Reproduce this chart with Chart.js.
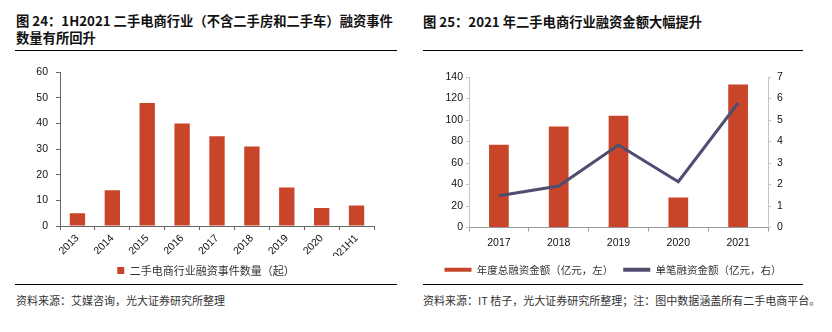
<!DOCTYPE html>
<html>
<head>
<meta charset="UTF-8">
<script src="https://cdn.jsdelivr.net/npm/chart.js"></script>
<title>二手电商融资</title>
<style>
  body { margin: 0; width: 832px; height: 332px; background: #fff; position: relative; overflow: hidden;
         font-family: "Noto Sans CJK SC", sans-serif; }
  .t { position: absolute; font-weight: bold; font-size: 13.3px; color: #111; line-height: 17px; white-space: nowrap; }
  .rule { position: absolute; height: 1px; background: #000; }
  .src { position: absolute; top: 292px; font-size: 11px; line-height: 16px; color: #333; white-space: nowrap; }
  canvas { position: absolute; }
</style>
</head>
<body>
<div class="t" style="left:16px;top:12px">图 24：1H2021 二手电商行业（不含二手房和二手车）融资事件<br>数量有所回升</div>
<div class="t" style="left:423px;top:13px">图 25：2021 年二手电商行业融资金额大幅提升</div>

<canvas id="events" width="400" height="228" style="left:0px;top:58px"></canvas>
<canvas id="amount" width="386" height="223" style="left:420px;top:62px"></canvas>

<div class="rule" style="left:15px;top:50px;width:382px"></div>
<div class="rule" style="left:423px;top:50px;width:380px"></div>
<div class="rule" style="left:15px;top:284px;width:382px"></div>
<div class="rule" style="left:423px;top:284px;width:380px"></div>
<div class="src" style="left:16px">资料来源：艾媒咨询，光大证券研究所整理</div>
<div class="src" style="left:423px">资料来源：IT 桔子，光大证券研究所整理；注：图中数据涵盖所有二手电商平台。</div>

<script>
  // 图24 数据
  const eventYears = ['2013', '2014', '2015', '2016', '2017', '2018', '2019', '2020', '2021H1'];
  const eventCounts = [5, 14, 48, 40, 35, 31, 15, 7, 8];
  const eventTicks = [0, 10, 20, 30, 40, 50, 60];

  // 图25 数据
  const amountYears = ['2017', '2018', '2019', '2020', '2021'];
  const totalAmount = [77, 94, 104, 28, 133];
  const avgAmount = [1.48, 1.93, 3.84, 2.13, 5.79];
  const leftTicks = [0, 20, 40, 60, 80, 100, 120, 140];
  const rightTicks = [0, 1, 2, 3, 4, 5, 6, 7];

  const red = '#C9452A';
  const navy = '#4F4D70';
  const cjk = '"Noto Sans CJK SC", sans-serif';

  Chart.defaults.font.family = '"Liberation Sans", Arial, sans-serif';
  Chart.defaults.font.size = 10.5;
  Chart.defaults.color = '#111';
  Chart.defaults.animation = false;

  function fixedTicks(list) {
    return function (scale) {
      scale.ticks = list.map(v => ({ value: v }));
    };
  }

  function flatLabels(chart) {
    const items = Chart.defaults.plugins.legend.labels.generateLabels(chart);
    items.forEach(i => { i.lineWidth = 0; });
    return items;
  }

  // moves the legend sideways so it sits under the plot like the original
  const legendShift = {
    id: 'legendShift',
    afterLayout(chart, args, opts) {
      const l = chart.legend;
      if (l && opts.dx) { l.left += opts.dx; l.right += opts.dx; }
    }
  };

  new Chart(document.getElementById('events').getContext('2d'), {
    type: 'bar',
    data: {
      labels: eventYears,
      datasets: [{
        label: '二手电商行业融资事件数量（起）',
        data: eventCounts,
        backgroundColor: red,
        categoryPercentage: 1,
        barPercentage: 0.44
      }]
    },
    plugins: [legendShift],
    options: {
      responsive: false,
      layout: { padding: { top: 12, right: 26, left: 0, bottom: 0 } },
      plugins: {
        tooltip: { enabled: false },
        legendShift: { dx: 19 },
        legend: {
          position: 'bottom',
          labels: {
            boxWidth: 7, boxHeight: 7, padding: 9, color: '#333',
            font: { family: cjk, size: 11 },
            generateLabels: flatLabels
          }
        }
      },
      scales: {
        x: {
          grid: { drawOnChartArea: false, offset: true, tickLength: 4, color: '#666' },
          border: { color: '#666' },
          ticks: { maxRotation: 45, minRotation: 45, padding: 2, autoSkip: false },
          afterFit: s => { s.height = 30; }
        },
        y: {
          min: 0, max: 60,
          grid: { drawOnChartArea: false, tickLength: 4, color: '#666' },
          border: { color: '#666' },
          ticks: { padding: 8 },
          afterBuildTicks: fixedTicks(eventTicks),
          afterFit: s => { s.width = 60; }
        }
      }
    }
  });

  new Chart(document.getElementById('amount').getContext('2d'), {
    type: 'bar',
    data: {
      labels: amountYears,
      datasets: [{
        type: 'bar',
        label: '年度总融资金额（亿元，左）',
        data: totalAmount,
        backgroundColor: red,
        yAxisID: 'y',
        categoryPercentage: 1,
        barPercentage: 0.33,
        order: 2
      }, {
        type: 'line',
        label: '单笔融资金额（亿元，右）',
        data: avgAmount,
        borderColor: navy,
        backgroundColor: navy,
        borderWidth: 3,
        pointRadius: 0,
        tension: 0,
        yAxisID: 'y2',
        order: 1
      }]
    },
    options: {
      responsive: false,
      layout: { padding: { top: 15, right: 0, left: 0, bottom: 0 } },
      plugins: {
        tooltip: { enabled: false },
        legend: {
          position: 'bottom',
          labels: {
            boxWidth: 27, boxHeight: 4, padding: 10, color: '#333',
            font: { family: cjk, size: 10.5 },
            generateLabels: flatLabels,
            sort: (a, b) => a.datasetIndex - b.datasetIndex
          }
        }
      },
      scales: {
        x: {
          grid: { drawOnChartArea: false, offset: true, tickLength: 4, color: '#999' },
          border: { color: '#999' },
          ticks: { padding: 5 },
          afterFit: s => { s.height = 27; }
        },
        y: {
          position: 'left',
          min: 0, max: 140,
          grid: { drawOnChartArea: false, tickLength: 3, color: '#c4c4c4' },
          border: { color: '#c4c4c4' },
          ticks: { padding: 3 },
          afterBuildTicks: fixedTicks(leftTicks),
          afterFit: s => { s.width = 49; }
        },
        y2: {
          position: 'right',
          min: 0, max: 7,
          grid: { drawOnChartArea: false, tickLength: 3, color: '#c4c4c4' },
          border: { color: '#c4c4c4' },
          ticks: { padding: 6 },
          afterBuildTicks: fixedTicks(rightTicks),
          afterFit: s => { s.width = 38; }
        }
      }
    }
  });
</script>
</body>
</html>
